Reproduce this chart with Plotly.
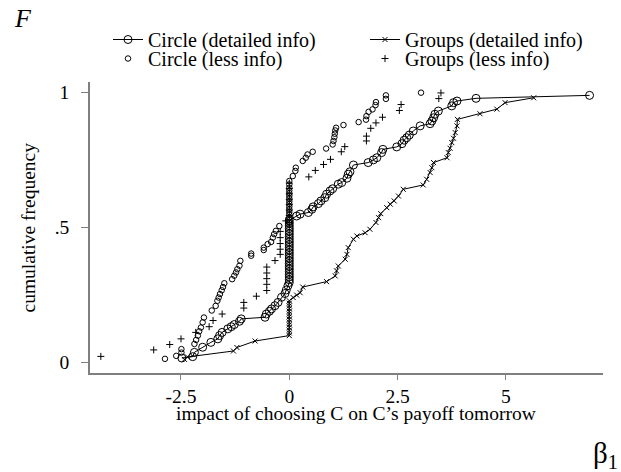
import plotly.graph_objects as go

# ---------------- data ----------------
circ_det_x = [-2.48, -2.23, -2.19, -2.0, -1.81, -1.65, -1.61, -1.55, -1.42, -1.34, -1.27, -1.15, -1.11,
              -0.56, -0.53, -0.46, -0.41, -0.33, -0.26, -0.18, -0.10, -0.07, -0.03,
              0, 0, 0, 0, 0, 0, 0, 0, 0, 0, 0, 0, 0, 0, 0, 0, 0, 0, 0, 0, 0, 0, 0, 0,
              0.17, 0.25, 0.44, 0.52, 0.55, 0.67, 0.73, 0.82, 0.86, 0.94, 1.0, 1.13, 1.21, 1.33, 1.36, 1.40,
              1.48, 1.82, 1.94, 2.02, 2.13, 2.16, 2.48, 2.60, 2.65, 2.71, 2.77, 2.86, 3.02, 3.25, 3.29, 3.33,
              3.36, 3.44, 3.75, 3.79, 3.87, 4.31, 6.93]
circ_det_y = [0.017, 0.022, 0.038, 0.057, 0.075, 0.088, 0.100, 0.112, 0.125, 0.133, 0.141, 0.153, 0.162,
              0.168, 0.180, 0.190, 0.199, 0.211, 0.223, 0.242, 0.256, 0.269, 0.285,
              0.297, 0.307, 0.317, 0.327, 0.337, 0.347, 0.357, 0.367, 0.377, 0.387, 0.397, 0.407, 0.417,
              0.427, 0.437, 0.447, 0.457, 0.467, 0.477, 0.487, 0.497, 0.507, 0.517, 0.527,
              0.543, 0.550, 0.556, 0.568, 0.577, 0.589, 0.599, 0.611, 0.624, 0.636, 0.644, 0.661, 0.667,
              0.683, 0.698, 0.707, 0.732, 0.741, 0.751, 0.759, 0.778, 0.790, 0.799, 0.811, 0.824, 0.833,
              0.843, 0.858, 0.877, 0.885, 0.895, 0.907, 0.920, 0.932, 0.951, 0.963, 0.969, 0.979, 0.990]

circ_less_x = [-2.87, -2.61, -2.49, -2.49, -2.19, -2.15, -2.11, -2.08, -2.04, -2.00, -1.97,
               -1.79, -1.70, -1.66, -1.63, -1.60, -1.56, -1.53, -1.50,
               -1.32, -1.27, -1.23, -1.20, -1.15, -1.13, -0.88, -0.88,
               -0.59, -0.59, -0.50, -0.42, -0.38, -0.35, -0.31, -0.23,
               0, 0, 0, 0, 0, 0, 0, 0, 0, 0, 0, 0, 0, 0, 0, 0,
               0.08, 0.14, 0.15, 0.31, 0.38, 0.42, 0.54, 0.85, 1.00, 1.02, 1.04, 1.05, 1.06, 1.08,
               1.25, 1.60, 1.77, 1.78, 1.83, 1.92, 1.99, 2.00, 2.23, 2.23, 3.04]
circ_less_y = [0.014, 0.025, 0.037, 0.050, 0.069, 0.084, 0.100, 0.116, 0.130, 0.149, 0.167,
               0.193, 0.210, 0.229, 0.241, 0.254, 0.268, 0.280, 0.294,
               0.309, 0.322, 0.334, 0.346, 0.359, 0.377, 0.396, 0.404,
               0.417, 0.426, 0.439, 0.447, 0.463, 0.476, 0.488, 0.506,
               0.518, 0.528, 0.538, 0.548, 0.558, 0.568, 0.578, 0.588, 0.598, 0.608, 0.618, 0.628,
               0.638, 0.648, 0.660, 0.673,
               0.691, 0.710, 0.722, 0.747, 0.759, 0.771, 0.781, 0.793, 0.808, 0.821, 0.835, 0.848,
               0.860, 0.870, 0.880, 0.891, 0.900, 0.913, 0.929, 0.938, 0.954, 0.965, 0.977, 0.990, 1.000]

grp_det_x = [-2.42, -2.35, -1.29, -1.21, -0.79,
             0, 0, 0, 0, 0, 0, 0, 0, 0, 0, 0, 0, 0, 0,
             0.09, 0.17, 0.25, 0.31, 0.86, 1.06, 1.09, 1.13,
             1.29, 1.33, 1.36, 1.48, 1.56, 1.75, 1.86, 2.00, 2.06, 2.11, 2.25, 2.33, 2.42, 2.52, 2.63,
             3.09, 3.17, 3.25, 3.29, 3.33, 3.64, 3.67, 3.71, 3.75, 3.79, 3.83, 3.87, 3.88,
             4.40, 4.79, 4.98, 5.64]
grp_det_y = [0.012, 0.021, 0.043, 0.056, 0.080,
             0.100, 0.110, 0.120, 0.130, 0.140, 0.150, 0.160, 0.170, 0.180, 0.190, 0.200, 0.210, 0.220, 0.229,
             0.241, 0.250, 0.259, 0.280, 0.300, 0.321, 0.340, 0.358,
             0.383, 0.401, 0.426, 0.457, 0.469, 0.481, 0.494, 0.519, 0.537, 0.552, 0.574, 0.587, 0.599,
             0.617, 0.642, 0.658, 0.679, 0.704, 0.722, 0.741, 0.759, 0.778, 0.794, 0.815, 0.831, 0.852,
             0.877, 0.901, 0.922, 0.939, 0.963, 0.981]

grp_less_x = [-4.35, -3.13, -2.76, -2.50, -2.16, -1.85, -1.76, -1.55, -1.05, -1.05, -0.76,
              -0.52, -0.52, -0.52, -0.52, -0.52, -0.33, -0.21, -0.21, -0.21, -0.21, -0.21, -0.08,
              0, 0, 0, 0, 0, 0, 0,
              0.45, 0.60, 0.79, 0.95, 1.20, 1.28, 1.78, 1.78, 1.88, 2.00, 2.15, 2.54, 2.58, 3.45, 3.50]
grp_less_y = [0.023, 0.047, 0.067, 0.088, 0.112, 0.133, 0.156, 0.180, 0.202, 0.223, 0.246,
              0.267, 0.290, 0.311, 0.332, 0.354, 0.378, 0.401, 0.420, 0.441, 0.463, 0.486, 0.525,
              0.545, 0.565, 0.585, 0.605, 0.625, 0.645, 0.665,
              0.688, 0.712, 0.734, 0.753, 0.781, 0.800, 0.821, 0.839, 0.868, 0.888, 0.909, 0.934,
              0.956, 0.978, 0.999]

x_tick_vals = [-2.5, 0, 2.5, 5]
x_tick_text = ["-2.5", "0", "2.5", "5"]
y_tick_vals = [0, 0.5, 1]
y_tick_text = ["0", ".5", "1"]

# ---------------- figure ----------------
W, H = 621, 472
SERIF = "Liberation Serif, Times New Roman, serif"
AXC = "#7f7f7f"
ML, MR, MT, MB = 90, 18, 82, 99
PW, PH = W - ML - MR, H - MT - MB

fig = go.Figure()
fig.add_trace(go.Scatter(
    x=circ_det_x, y=circ_det_y, mode="lines+markers", name="Circle (detailed info)",
    line=dict(color="black", width=1),
    marker=dict(symbol="circle-open", size=8, color="black", line=dict(width=1, color="black")),
    legend="legend"))
fig.add_trace(go.Scatter(
    x=grp_det_x, y=grp_det_y, mode="lines+markers", name="Groups (detailed info)",
    line=dict(color="black", width=1),
    marker=dict(symbol="x-thin", size=5, color="black", line=dict(width=1, color="black")),
    legend="legend2"))
fig.add_trace(go.Scatter(
    x=circ_less_x, y=circ_less_y, mode="markers", name="Circle (less info)",
    marker=dict(symbol="circle-open", size=5.5, color="black", line=dict(width=1, color="black")),
    legend="legend3"))
fig.add_trace(go.Scatter(
    x=grp_less_x, y=grp_less_y, mode="markers", name="Groups (less info)",
    marker=dict(symbol="cross-thin", size=5, color="black", line=dict(width=1, color="black")),
    legend="legend4"))


def leg(xpix, ypix):
    return dict(orientation="v", xref="container", yref="container",
                x=xpix / W, y=1 - ypix / H, xanchor="left", yanchor="middle",
                font=dict(family=SERIF, size=20, color="black"),
                bgcolor="rgba(0,0,0,0)", borderwidth=0, itemclick=False, itemdoubleclick=False)


fig.update_layout(
    width=W, height=H,
    margin=dict(l=ML, r=MR, t=MT, b=MB, autoexpand=False),
    plot_bgcolor="white", paper_bgcolor="white",
    font=dict(family=SERIF, size=19, color="black"),
    showlegend=True,
    legend=leg(108, 39.5),
    legend2=leg(365, 39.5),
    legend3=leg(108, 58.5),
    legend4=leg(365, 58.5),
    xaxis=dict(range=[-4.60, 7.24], tickvals=x_tick_vals, ticktext=x_tick_text,
               showgrid=False, zeroline=False, showline=True, linecolor=AXC, linewidth=1.5,
               ticks="outside", ticklen=5, tickcolor=AXC, tickwidth=1,
               tickfont=dict(family=SERIF, size=19.5, color="black"), ticklabelstandoff=0),
    yaxis=dict(range=[-0.0385, 1.0395], tickvals=y_tick_vals, ticktext=y_tick_text,
               showgrid=False, zeroline=False, showline=True, linecolor=AXC, linewidth=1.5,
               ticks="outside", ticklen=7, tickcolor=AXC, tickwidth=1,
               tickfont=dict(family=SERIF, size=19.5, color="black"), ticklabelstandoff=8),
)

fig.add_annotation(text="impact of choosing C on C\u2019s payoff tomorrow", xref="paper", yref="paper",
                   x=(356 - ML) / PW, y=-(413 - (H - MB)) / PH, xanchor="center", yanchor="middle",
                   showarrow=False, font=dict(family=SERIF, size=19.5, color="black"))
fig.add_annotation(text="cumulative frequency", xref="paper", yref="paper",
                   x=-(ML - 28) / PW, y=0.5, xanchor="center", yanchor="middle", textangle=-90,
                   showarrow=False, font=dict(family=SERIF, size=19.5, color="black"))
fig.add_annotation(text="<i>F</i>", xref="paper", yref="paper",
                   x=-(ML - 12) / PW, y=1 + (MT - 19) / PH, xanchor="left", yanchor="middle",
                   showarrow=False, font=dict(family=SERIF, size=26, color="black"))
fig.add_annotation(text="\u03b2<sub>1</sub>", xref="paper", yref="paper",
                   x=(591 - ML) / PW, y=-(455 - (H - MB)) / PH, xanchor="left", yanchor="middle",
                   showarrow=False, font=dict(family=SERIF, size=29, color="black"))

fig.write_html("out.html")
